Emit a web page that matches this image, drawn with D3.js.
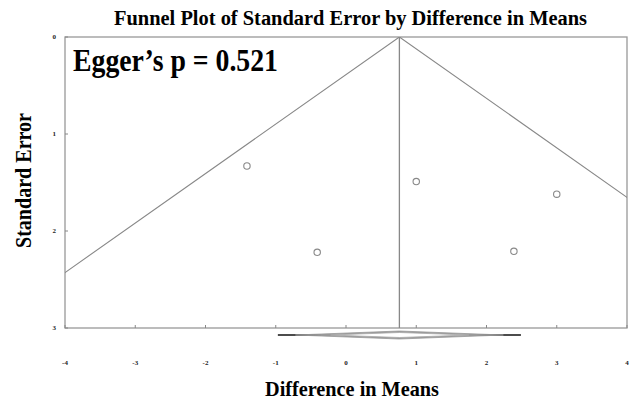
<!DOCTYPE html>
<html>
<head>
<meta charset="utf-8">
<script src="https://cdn.jsdelivr.net/npm/d3@7"></script>
<style>
  body { margin: 0; background: #fff; }
  text { font-family: "Liberation Serif", "Times New Roman", serif; font-weight: bold; }
</style>
</head>
<body>
<div id="chart"></div>
<script>
// study effects (difference in means) and their standard errors
var studyDiff = [-1.41, -0.41, 1.0, 3.0, 2.39];
var studySE = [1.33, 2.22, 1.49, 1.62, 2.21];
var pooledMean = 0.76;
var xTicks = [-4, -3, -2, -1, 0, 1, 2, 3, 4];
var yTicks = [0, 1, 2, 3];
// summary diamonds at the bottom
var predInterval = [-0.97, 2.49];
var outerDiamond = [-0.72, 2.24];
var ciDiamond = [-0.22, 1.75];

var svgWidth = 641;
var svgHeight = 403;
var margin = { top: 37, bottom: 75, right: 14, left: 65 };
var width = svgWidth - margin.left - margin.right;
var height = svgHeight - margin.top - margin.bottom;

var svg = d3.select("#chart")
  .append("svg")
  .attr("width", svgWidth)
  .attr("height", svgHeight);

var chartGroup = svg.append("g")
  .attr("transform", `translate(${margin.left}, ${margin.top})`);

var x = d3.scaleLinear().domain([-4, 4]).range([0, width]);
var y = d3.scaleLinear().domain([0, 3]).range([0, height]);

// frame
chartGroup.append("rect")
  .attr("width", width)
  .attr("height", height)
  .attr("fill", "none")
  .attr("stroke", "#999")
  .attr("stroke-width", 1.3);

// tick marks (inside)
chartGroup.selectAll(".xt").data(xTicks).enter().append("line")
  .attr("x1", d => x(d)).attr("x2", d => x(d))
  .attr("y1", height).attr("y2", height - 3)
  .attr("stroke", "#888");
chartGroup.selectAll(".yt").data(yTicks).enter().append("line")
  .attr("x1", 0).attr("x2", 3)
  .attr("y1", d => y(d)).attr("y2", d => y(d))
  .attr("stroke", "#888");

// tick labels
chartGroup.selectAll(".xl").data(xTicks).enter().append("text")
  .attr("x", d => x(d))
  .attr("y", height + 37)
  .attr("text-anchor", "middle")
  .attr("font-size", 7)
  .attr("fill", "#222")
  .text(d => d);
chartGroup.selectAll(".yl").data(yTicks).enter().append("text")
  .attr("x", -9)
  .attr("y", d => y(d) + 2)
  .attr("text-anchor", "end")
  .attr("font-size", 7)
  .attr("fill", "#222")
  .text(d => d);

// funnel: clip to plot area
svg.append("clipPath").attr("id", "plotclip")
  .append("rect").attr("width", width).attr("height", height);

var funnel = chartGroup.append("g").attr("clip-path", "url(#plotclip)");
var seMax = 3;
funnel.append("path")
  .attr("d", d3.line()([
    [x(pooledMean - 1.96 * seMax), y(seMax)],
    [x(pooledMean), y(0)],
    [x(pooledMean + 1.96 * seMax), y(seMax)]
  ]))
  .attr("fill", "none")
  .attr("stroke", "#888")
  .attr("stroke-width", 1.1);

chartGroup.append("line")
  .attr("x1", x(pooledMean)).attr("x2", x(pooledMean))
  .attr("y1", 0).attr("y2", height)
  .attr("stroke", "#888")
  .attr("stroke-width", 1.3);

// studies
chartGroup.selectAll("circle").data(studyDiff).enter().append("circle")
  .attr("cx", d => x(d))
  .attr("cy", (d, i) => y(studySE[i]))
  .attr("r", 3.2)
  .attr("fill", "none")
  .attr("stroke", "#888")
  .attr("stroke-width", 1.1);

// summary at bottom
var dy = height + 7;
chartGroup.append("line")
  .attr("x1", x(predInterval[0])).attr("x2", x(predInterval[1]))
  .attr("y1", dy).attr("y2", dy)
  .attr("stroke", "#111")
  .attr("stroke-width", 1.3);

function diamond(r, h) {
  return d3.line()([
    [x(r[0]), dy], [x(pooledMean), dy - h], [x(r[1]), dy], [x(pooledMean), dy + h]
  ]) + "Z";
}
chartGroup.append("path")
  .attr("d", diamond(outerDiamond, 4))
  .attr("fill", "#999")
  .attr("stroke", "#999")
  .attr("stroke-width", 0.8);
chartGroup.append("path")
  .attr("d", diamond(ciDiamond, 2.5))
  .attr("fill", "#fff")
  .attr("stroke", "#aaa")
  .attr("stroke-width", 0.8);

// titles
svg.append("text")
  .attr("x", 114)
  .attr("y", 25)
  .attr("font-size", 20)
  .attr("textLength", 473)
  .attr("lengthAdjust", "spacingAndGlyphs")
  .text("Funnel Plot of Standard Error by Difference in Means");

svg.append("text")
  .attr("x", 73)
  .attr("y", 71)
  .attr("font-size", 31)
  .attr("textLength", 205)
  .attr("lengthAdjust", "spacingAndGlyphs")
  .text("Egger\u2019s p = 0.521");

svg.append("text")
  .attr("transform", "translate(31, 248) rotate(-90)")
  .attr("font-size", 23)
  .attr("textLength", 135)
  .attr("lengthAdjust", "spacingAndGlyphs")
  .text("Standard Error");

svg.append("text")
  .attr("x", 265)
  .attr("y", 396)
  .attr("font-size", 21)
  .attr("textLength", 174)
  .attr("lengthAdjust", "spacingAndGlyphs")
  .text("Difference in Means");
</script>
</body>
</html>
